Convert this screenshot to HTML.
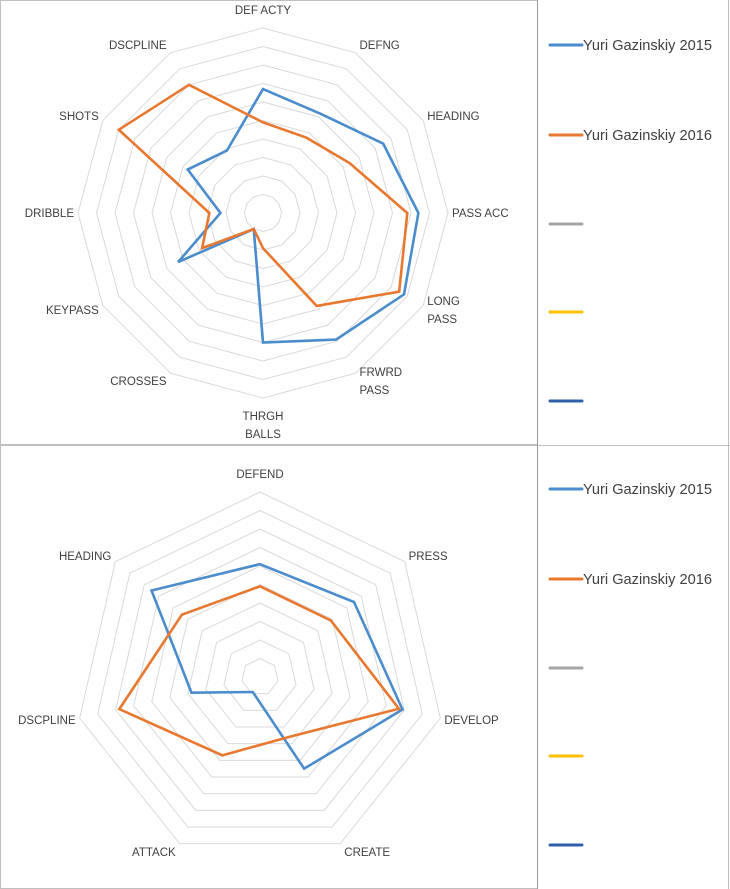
<!DOCTYPE html>
<html><head><meta charset="utf-8"><style>
body{margin:0;background:#fff;}
svg{display:block;font-family:"Liberation Sans",sans-serif;}
</style></head><body>
<svg id="s" width="730" height="889">
<rect x="0.5" y="0.5" width="537" height="444" fill="none" stroke="#bfbfbf"/>
<rect x="0.5" y="445.5" width="537" height="443" fill="none" stroke="#bfbfbf"/>
<line x1="537.5" y1="0" x2="537.5" y2="889" stroke="#999"/>
<line x1="538" y1="445.5" x2="730" y2="445.5" stroke="#bfbfbf"/>
<line x1="728.5" y1="0" x2="728.5" y2="889" stroke="#bfbfbf"/>
</svg>
<script>
const topCats=["DEF ACTY","DEFNG","HEADING","PASS ACC","LONG|PASS","FRWRD|PASS","THRGH|BALLS","CROSSES","KEYPASS","DRIBBLE","SHOTS","DSCPLINE"];
const top2015=[6.7,6.2,7.5,8.4,8.8,7.9,7.0,1.0,5.3,2.3,4.7,3.9];
const top2016=[4.9,4.7,5.4,7.8,8.5,5.8,1.9,1.0,3.8,2.9,9.0,8.0];
const botCats=["DEFEND","PRESS","DEVELOP","CREATE","ATTACK","DSCPLINE","HEADING"];
const bot2015=[6.1,6.5,7.9,5.5,0.9,3.8,7.5];
const bot2016=[4.9,4.9,7.7,3.6,4.7,7.8,5.4];
const seriesNames=["Yuri Gazinskiy 2015","Yuri Gazinskiy 2016","","",""];
const seriesColors=["#4a8ccc","#e8782f","#a5a5a5","#ffc000","#2f5fa8"];
const maxVal=10, rings=10;
const NS="http://www.w3.org/2000/svg";
const svg=document.getElementById('s');
function mk(t,a){const e=document.createElementNS(NS,t);for(const k in a)e.setAttribute(k,a[k]);svg.appendChild(e);return e;}
function pt(cx,cy,R,i,n,v){const a=2*Math.PI*i/n;const r=R*v/maxVal;return [cx+r*Math.sin(a),cy-r*Math.cos(a)];}
function radar(cx,cy,R,cats,s1,s2,name){
  const n=cats.length;
  for(let k=1;k<=rings;k++){
    const pts=[];for(let i=0;i<n;i++)pts.push(pt(cx,cy,R,i,n,maxVal*k/rings).join(','));
    const g=mk('polygon',{points:pts.join(' '),fill:'none',stroke:'#d9d9d9','stroke-width':1});
    
    
  }
  cats.forEach((c,i)=>{
    const [vx,vy]=pt(cx,cy,R,i,n,maxVal);
    const a=2*Math.PI*i/n, s=Math.sin(a), co=Math.cos(a);
    const vert=Math.abs(co)>0.95;
    const anchor=Math.abs(s)<0.2?'middle':(s>0?'start':'end');
    const lines=c.split('|');
    const x=vx+(Math.abs(s)<0.2?0:(s>0?4:-4));
    let cyb=vy-co*(vert?18:9);
    if(vert&&lines.length>1)cyb+=(co<0?9:-9);
    const firstY=cyb-(lines.length-1)*9+4;
    const t=mk('text',{x:x,y:firstY,'font-size':11.5,fill:'#404040','text-anchor':anchor});
    
    
    lines.forEach((l,j)=>{const sp=document.createElementNS(NS,'tspan');sp.setAttribute('x',x);sp.setAttribute('dy',j?18:0);sp.textContent=l;t.appendChild(sp);});
  });
  [s1,s2].forEach((s,si)=>{
    const pts=s.map((v,i)=>pt(cx,cy,R,i,n,v).join(','));
    const p=mk('polygon',{points:pts.join(' '),fill:'none',stroke:seriesColors[si],'stroke-width':2.6,'stroke-linejoin':'miter'});
    
    
  });
}
radar(263,213,185,topCats,top2015,top2016,'top-radar');
radar(260,677,185,botCats,bot2015,bot2016,'bottom-radar');
function legend(y0){
  const ys=[45,135,224,312,401];
  seriesNames.forEach((nm,i)=>{
    const y=y0+ys[i];
    const l=mk('line',{x1:550,y1:y,x2:582,y2:y,stroke:seriesColors[i],'stroke-width':3,'stroke-linecap':'round'});
    
    
    if(nm){const t=mk('text',{x:583,y:y+5,'font-size':14.6,fill:'#404040'});t.textContent=nm;
    
    }
  });
}
legend(0);legend(444);
</script>
</body></html>
